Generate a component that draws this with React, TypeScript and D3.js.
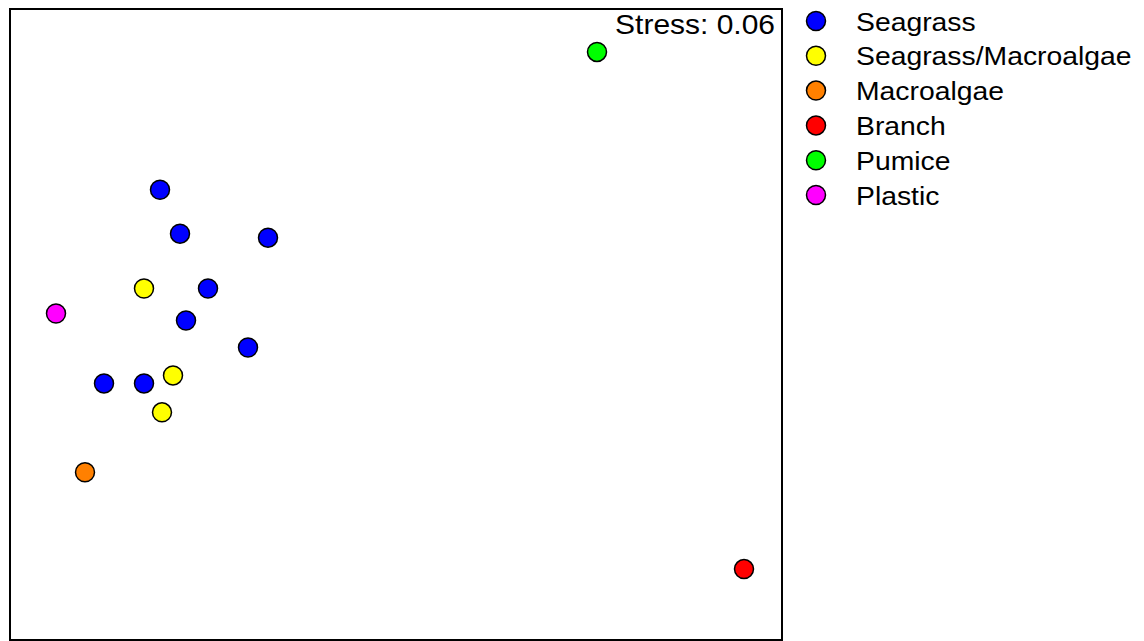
import * as d3 from 'd3';

const groups = ['Seagrass', 'Seagrass/Macroalgae', 'Macroalgae', 'Branch', 'Pumice', 'Plastic'];
const groupColors = ['#0000ff', '#ffff00', '#ff8000', '#ff0000', '#00ff00', '#ff00ff'];

// NMDS scores per sample
const sampleGroup = [
  'Seagrass', 'Seagrass', 'Seagrass', 'Seagrass', 'Seagrass', 'Seagrass', 'Seagrass', 'Seagrass',
  'Seagrass/Macroalgae', 'Seagrass/Macroalgae', 'Seagrass/Macroalgae',
  'Macroalgae', 'Branch', 'Pumice', 'Plastic',
];
const nmds1 = [-0.56, -0.48, -0.128, -0.368, -0.456, -0.208, -0.784, -0.624, -0.624, -0.508, -0.552, -0.86, 1.776, 1.188, -0.976];
const nmds2 = [0.52, 0.344, 0.328, 0.124, -0.004, -0.112, -0.256, -0.256, 0.124, -0.224, -0.372, -0.612, -1.0, 1.072, 0.024];
const stress = 0.06;

const W = 1144;
const H = 641;
const box = { left: 10, top: 9, right: 782, bottom: 640 };

const App = () => {
  const x = d3.scaleLinear().domain([-1.16, 1.928]).range([box.left, box.right]);
  const y = d3.scaleLinear().domain([-1.284, 1.244]).range([box.bottom, box.top]);
  const color = d3.scaleOrdinal<string, string>().domain(groups).range(groupColors);
  const font = 'Arial, "Liberation Sans", sans-serif';

  return (
    <svg width={W} height={H} style={{ position: 'absolute', left: 0, top: 0 }}>
      <rect x={0} y={0} width={W} height={H} fill="#fff" />
      <rect
        x={box.left}
        y={box.top}
        width={box.right - box.left}
        height={box.bottom - box.top}
        fill="none"
        stroke="#000"
        strokeWidth={2}
      />
      <g transform="translate(775,34) scale(1.11,1)">
        <text textAnchor="end" fontFamily={font} fontSize={27} fill="#000">
          Stress: {stress.toFixed(2)}
        </text>
      </g>
      {nmds1.map((v, i) => (
        <circle
          key={i}
          cx={x(v)}
          cy={y(nmds2[i])}
          r={9.5}
          fill={color(sampleGroup[i])}
          stroke="#000"
          strokeWidth={1.5}
        />
      ))}
      {groups.map((g, i) => (
        <g key={g} transform={`translate(816,${21 + i * 34.8})`}>
          <circle r={9.5} fill={color(g)} stroke="#000" strokeWidth={1.5} />
          <g transform="translate(40,9.5) scale(1.09,1)">
            <text fontFamily={font} fontSize={26} fill="#000">
              {g}
            </text>
          </g>
        </g>
      ))}
    </svg>
  );
};

export default App;
